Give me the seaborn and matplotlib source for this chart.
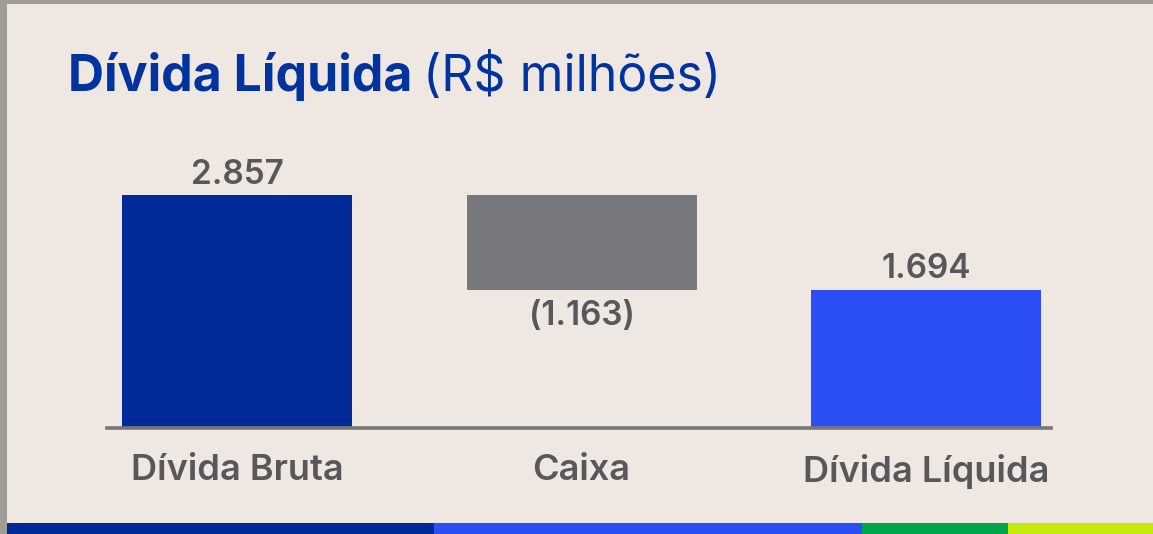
import matplotlib
matplotlib.use("Agg")
import matplotlib.pyplot as plt
from matplotlib.patches import Rectangle
import seaborn as sns

# data (R$ milhões)
categories = ["Dívida Bruta", "Caixa", "Dívida Líquida"]
values = [2857, -1163, 1694]
value_labels = ["2.857", "(1.163)", "1.694"]
bar_colors = ["#002a97", "#77787b", "#2b4ff5"]

bg = "#efe8e2"
W, H = 1153, 534

# waterfall: bottoms and heights
bottoms = [0, values[0] + values[1], 0]
heights = [values[0], -values[1], values[2]]

sns.set_theme(style="white")
plt.rcParams["font.family"] = ["Inter", "DejaVu Sans"]

fig = plt.figure(figsize=(W / 100, H / 100), dpi=100)
fig.patch.set_facecolor(bg)

# axes placed in pixel terms: baseline at y=428, spans x=107..1051
ax = fig.add_axes([107 / W, (H - 428) / H, (1051 - 107) / W, (428 - 130) / H])
ax.set_facecolor(bg)

sns.barplot(x=categories, y=heights, bottom=bottoms, color=bar_colors[0],
            width=230 / 344.5, saturation=1, ax=ax)
for patch, col in zip(ax.patches, bar_colors):
    patch.set_facecolor(col)
    patch.set_edgecolor("none")

ax.set_xlim(-130 / 344.5, 2 + 125 / 344.5)
ax.set_ylim(0, (428 - 130) / 0.08155)

for s in ["top", "right", "left"]:
    ax.spines[s].set_visible(False)
ax.spines["bottom"].set_color("#77777a")
ax.spines["bottom"].set_linewidth(2.6)
ax.set_yticks([])
ax.set_ylabel("")
ax.tick_params(axis="x", length=0, pad=19, labelsize=26, labelcolor="#58585a")
for t in ax.get_xticklabels():
    t.set_fontweight("semibold")

# value labels
for i, (b, h, lab) in enumerate(zip(bottoms, heights, value_labels)):
    if values[i] < 0:
        ax.text(i, b - 120, lab, ha="center", va="top", fontsize=24,
                fontweight="semibold", color="#58585a")
    else:
        ax.text(i, b + h + 55, lab, ha="center", va="bottom", fontsize=24,
                fontweight="semibold", color="#58585a")

# title in two weights
t1 = fig.text(68 / W, 1 - 91 / H, "Dívida Líquida", fontsize=36, fontweight="bold",
              color="#0033a0", va="baseline")
fig.canvas.draw()
bb = t1.get_window_extent()
fig.text((bb.x1 + 11) / W, 1 - 91 / H, "(R$ milhões)", fontsize=36,
         color="#0033a0", va="baseline")

# frame edges and bottom colour strip
fig.patches.append(Rectangle((0, 0), 7 / W, 1, transform=fig.transFigure,
                             facecolor="#a09d97", edgecolor="none"))
fig.patches.append(Rectangle((0, 1 - 4 / H), 1, 4 / H, transform=fig.transFigure,
                             facecolor="#a09d97", edgecolor="none"))
strip = [(7, 434, "#002a97"), (434, 862, "#2b4ff5"),
         (862, 1008, "#00a74a"), (1008, 1153, "#c6e90c")]
for x0, x1, c in strip:
    fig.patches.append(Rectangle((x0 / W, 0), (x1 - x0) / W, 11 / H,
                                 transform=fig.transFigure, facecolor=c,
                                 edgecolor="none"))

fig.savefig("out.png", dpi=100, facecolor=bg)
